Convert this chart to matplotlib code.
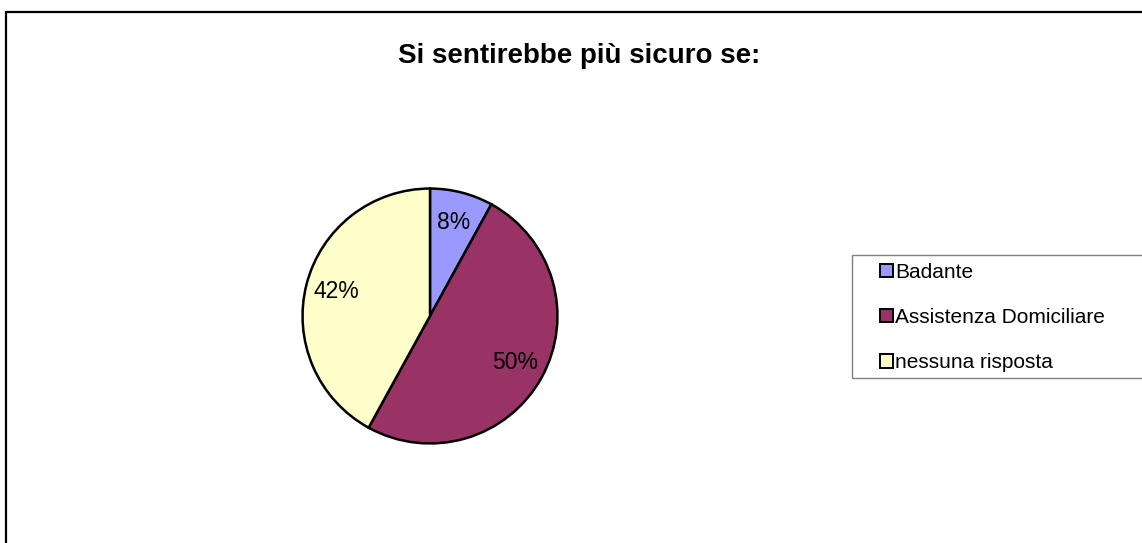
import matplotlib
matplotlib.use("Agg")
import matplotlib.pyplot as plt
from matplotlib.patches import Rectangle, Patch

plt.rcParams['font.family'] = ['Liberation Sans', 'DejaVu Sans']

# data
categorie = ["Badante", "Assistenza Domiciliare", "nessuna risposta"]
valori = [8, 50, 42]
colori = ["#9999FF", "#993366", "#FFFFCC"]
titolo = "Si sentirebbe più sicuro se:"

W, H = 1142, 543
fig = plt.figure(figsize=(W / 100, H / 100), dpi=100)

# outer frame (runs off the right/bottom edge)
fig.patches.append(Rectangle((6 / W, -0.1), 2, (H - 12) / H + 0.1,
                             transform=fig.transFigure, fill=False,
                             edgecolor="black", linewidth=1.6))

fig.text(579 / W, 1 - 56 / H, titolo, ha="center", va="center",
         fontsize=20, fontweight="bold")

# pie centred at (430, 316) px, radius 130 px
cx, cy, r = 430, 316, 130
ax = fig.add_axes([(cx - r) / W, (H - cy - r) / H, 2 * r / W, 2 * r / H])
wedges, texts, autotexts = ax.pie(
    valori, colors=colori, startangle=90, counterclock=False,
    autopct="%.0f%%", pctdistance=0.76,
    wedgeprops=dict(edgecolor="black", linewidth=1.8))
for t in autotexts:
    t.set_fontsize(16.5)
ax.set_xlim(-1.02, 1.02)
ax.set_ylim(-1.02, 1.02)
ax.set_aspect("equal")
ax.axis("off")

# legend box
fig.patches.append(Rectangle((852 / W, 1 - 378 / H), 400 / W, 123 / H,
                             transform=fig.transFigure, fill=False,
                             edgecolor="#808080", linewidth=1.0))
handles = [Patch(facecolor=c, edgecolor="black", linewidth=1.4) for c in colori]
fig.legend(handles, categorie, loc="upper left",
           bbox_to_anchor=(880 / W, 1 - 263 / H), frameon=False,
           fontsize=15, handlelength=0.62, handleheight=0.62,
           handletextpad=0.1, labelspacing=1.25, borderpad=0,
           borderaxespad=0)

fig.savefig("out.png", dpi=100, facecolor="white")
